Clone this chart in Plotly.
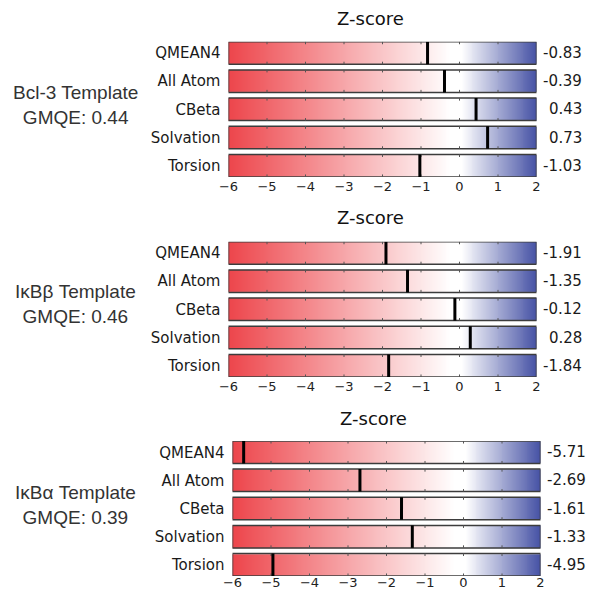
import plotly.graph_objects as go
import numpy as np

metrics = ["QMEAN4", "All Atom", "CBeta", "Solvation", "Torsion"]
templates = ["Bcl-3 Template", "IκBβ Template", "IκBα Template"]
gmqe = [0.44, 0.46, 0.39]
bcl3_z = [-0.83, -0.39, 0.43, 0.73, -1.03]
ikbb_z = [-1.91, -1.35, -0.12, 0.28, -1.84]
ikba_z = [-5.71, -2.69, -1.61, -1.33, -4.95]
zscores = [bcl3_z, ikbb_z, ikba_z]
tick_vals = [-6, -5, -4, -3, -2, -1, 0, 1, 2]
tick_text = ["−6", "−5", "−4", "−3", "−2", "−1", "0", "1", "2"]
zmin, zmax = -6, 2

W, H = 590, 591
# panel geometry in pixels: (x_left, x_right, y_top, y_bottom, title_x, title_y, group_y, tick_standoff)
panels = [
    (228.5, 536.5, 41.7, 177.0, 370.0, 18.3, 105.0, 0),
    (228.5, 536.5, 241.7, 377.0, 370.0, 218.0, 303.5, 0),
    (232.5, 540.5, 441.0, 576.0, 373.7, 418.0, 505.0, -3),
]

colorscale = [
    [0.0, "rgb(237,70,76)"],
    [(-0.25 - zmin) / (zmax - zmin), "rgb(255,255,255)"],
    [(0.05 - zmin) / (zmax - zmin), "rgb(255,255,255)"],
    [1.0, "rgb(70,82,165)"],
]

fig = go.Figure()
grad_x = np.linspace(zmin, zmax, 321)
rows = list(range(len(metrics)))
annotations = []
layout = {}

for k, (vals, (xl, xr, yt, yb, tx, ty, gy, tso)) in enumerate(zip(zscores, panels)):
    n = "" if k == 0 else str(k + 1)
    xa, ya = "x" + n, "y" + n
    # gradient bars
    fig.add_trace(go.Heatmap(
        x=grad_x, y=rows, z=[list(grad_x) for _ in rows],
        zmin=zmin, zmax=zmax, colorscale=colorscale, showscale=False,
        ygap=6, xaxis=xa, yaxis=ya, hoverinfo="skip"))
    # small tick marks along top/bottom of each bar
    sx, sy = [], []
    for i in rows:
        for t in tick_vals[1:-1]:
            sx += [t, t, None, t, t, None]
            sy += [i - 0.4, i - 0.31, None, i + 0.31, i + 0.4, None]
    fig.add_trace(go.Scatter(x=sx, y=sy, mode="lines",
                             line=dict(color="#555555", width=1),
                             xaxis=xa, yaxis=ya, hoverinfo="skip", showlegend=False))
    # bar outlines
    fig.add_trace(go.Bar(
        y=rows, x=[zmax - zmin] * len(rows), base=[zmin] * len(rows),
        orientation="h", width=0.8,
        marker=dict(color="rgba(0,0,0,0)", line=dict(color="#3c3c3c", width=1.5)),
        xaxis=xa, yaxis=ya, hoverinfo="skip", showlegend=False))
    # value markers
    mx, my = [], []
    for i, v in zip(rows, vals):
        mx += [v, v, None]
        my += [i - 0.4, i + 0.4, None]
    fig.add_trace(go.Scatter(x=mx, y=my, mode="lines",
                             line=dict(color="black", width=3),
                             xaxis=xa, yaxis=ya, hoverinfo="skip", showlegend=False))

    layout["xaxis" + n] = dict(
        domain=[xl / W, xr / W], range=[zmin, zmax], anchor=ya, automargin=False,
        tickvals=tick_vals, ticktext=tick_text, showgrid=False, zeroline=False,
        showline=False, ticks="", ticklabelstandoff=tso,
        tickfont=dict(family="DejaVu Sans", size=13, color="#222222"))
    layout["yaxis" + n] = dict(
        domain=[1 - yb / H, 1 - yt / H], range=[4.4, -0.4], anchor=xa, automargin=False,
        tickvals=rows, ticktext=metrics, showgrid=False, zeroline=False,
        showline=False, ticks="", ticklabelstandoff=7,
        tickfont=dict(family="DejaVu Sans", size=15, color="#1a1a1a"))

    for i, v in zip(rows, vals):
        annotations.append(dict(
            x=1.154, xref=xa + " domain", y=i, yref=ya,
            text=f"{v:.2f}", showarrow=False, xanchor="right", yanchor="middle",
            font=dict(family="DejaVu Sans", size=15, color="#1a1a1a")))
    annotations.append(dict(
        x=tx / W, y=1 - ty / H, xref="paper", yref="paper", text="Z-score",
        showarrow=False, xanchor="center", yanchor="middle",
        font=dict(family="DejaVu Sans", size=18, color="#111111")))
    annotations.append(dict(
        x=75 / W, y=1 - gy / H, xref="paper", yref="paper",
        text=f"{templates[k]}<br>GMQE: {gmqe[k]:.2f}",
        showarrow=False, xanchor="center", yanchor="middle", align="center",
        font=dict(family="Liberation Sans", size=19, color="#333333")))

fig.update_layout(
    width=W, height=H, margin=dict(l=0, r=0, t=0, b=0),
    paper_bgcolor="white", plot_bgcolor="white", showlegend=False,
    barmode="overlay", annotations=annotations, **layout)

fig.write_html("out.html")
